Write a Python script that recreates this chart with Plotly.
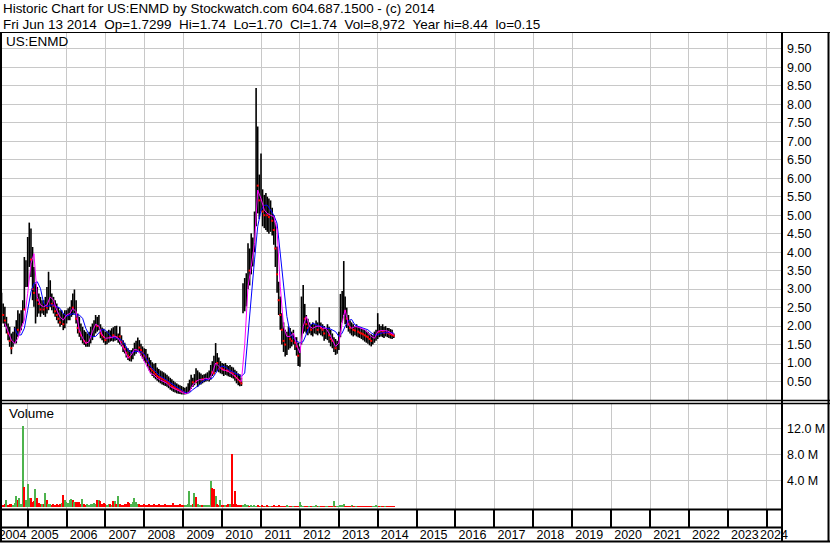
import plotly.graph_objects as go
import pandas as pd

# ---------------- data ----------------
# semi-monthly bars starting 2004-05-01 (1st and 16th of each month)
bar_high = [2.90, 2.61, 2.52, 2.25, 2.07, 1.98, 1.80, 1.85, 1.98, 2.16, 2.43, 2.34, 2.43, 2.70, 3.87, 3.78, 4.41, 4.80, 4.64, 4.14,
            3.60, 3.15, 3.06, 2.88, 2.79, 2.70, 2.70, 2.79, 3.06, 3.47, 3.24, 2.88, 2.79, 2.70, 2.61, 2.52, 2.43, 2.43, 2.34, 2.43,
            2.43, 2.48, 2.52, 2.70, 2.88, 2.99, 2.70, 2.34, 2.25, 2.07, 1.98, 1.89, 1.85, 1.80, 1.85, 1.98, 2.07, 2.16, 2.30, 2.25,
            2.30, 2.05, 1.96, 1.93, 1.85, 1.86, 1.90, 1.88, 1.94, 1.97, 2.00, 2.01, 1.80, 1.99, 1.75, 1.62, 1.55, 1.44, 1.40, 1.35,
            1.35, 1.40, 1.55, 1.60, 1.69, 1.62, 1.52, 1.45, 1.40, 1.38, 1.25, 1.15, 1.08, 1.02, 0.98, 1.00, 0.88, 0.84, 0.80, 0.78,
            0.75, 0.72, 0.68, 0.64, 0.60, 0.56, 0.52, 0.48, 0.45, 0.42, 0.40, 0.38, 0.35, 0.33, 0.36, 0.45, 0.55, 0.68, 0.60, 0.70,
            0.86, 0.80, 0.75, 0.72, 0.68, 0.70, 0.72, 0.75, 0.80, 0.95, 1.05, 1.20, 1.54, 1.27, 1.15, 1.05, 1.00, 0.98, 1.00, 0.95,
            0.92, 0.95, 0.90, 0.88, 0.82, 0.78, 0.72, 0.70, 0.60, 3.16, 3.30, 3.43, 4.24, 4.10, 4.51, 4.40, 5.10, 8.44, 7.40, 6.10,
            6.67, 5.70, 5.55, 5.60, 5.50, 5.45, 5.40, 5.20, 5.00, 4.80, 4.15, 3.20, 2.80, 2.35, 2.10, 1.90, 1.85, 1.99, 1.95, 1.85,
            1.90, 1.70, 1.70, 1.55, 1.45, 2.80, 3.11, 2.60, 2.30, 2.20, 2.10, 2.05, 2.10, 2.05, 2.15, 2.10, 2.51, 2.10, 2.05, 2.00,
            1.95, 2.05, 1.98, 1.90, 1.80, 1.70, 1.65, 1.60, 1.85, 2.87, 2.95, 3.76, 2.80, 2.50, 2.30, 2.15, 2.10, 2.05, 2.00, 2.05,
            2.00, 1.98, 1.95, 1.92, 1.90, 1.88, 1.85, 1.80, 1.78, 1.75, 1.85, 1.90, 2.35, 2.05, 2.00, 2.05, 1.98, 2.00, 1.95, 1.95,
            1.92, 1.90, 1.80]
bar_low = [2.34, 2.07, 1.98, 1.80, 1.62, 1.44, 1.24, 1.44, 1.53, 1.53, 1.71, 1.80, 1.89, 2.07, 2.43, 3.06, 3.06, 3.60, 3.33, 2.70,
           2.52, 2.07, 2.25, 2.34, 2.25, 2.34, 2.30, 2.25, 2.34, 2.43, 2.52, 2.43, 2.34, 2.25, 2.16, 2.07, 1.98, 2.03, 1.89, 1.94,
           2.07, 2.16, 2.16, 2.25, 2.30, 2.34, 2.07, 1.80, 1.71, 1.62, 1.53, 1.49, 1.44, 1.44, 1.44, 1.53, 1.62, 1.71, 1.80, 1.85,
           1.89, 1.67, 1.62, 1.55, 1.49, 1.51, 1.55, 1.58, 1.60, 1.58, 1.60, 1.62, 1.55, 1.50, 1.45, 1.30, 1.26, 1.15, 1.08, 1.05,
           1.04, 1.10, 1.20, 1.25, 1.30, 1.28, 1.20, 1.12, 1.05, 1.00, 0.90, 0.80, 0.72, 0.65, 0.60, 0.56, 0.52, 0.48, 0.45, 0.42,
           0.40, 0.38, 0.36, 0.32, 0.28, 0.25, 0.22, 0.20, 0.18, 0.17, 0.16, 0.15, 0.15, 0.15, 0.16, 0.18, 0.22, 0.30, 0.35, 0.40,
           0.45, 0.35, 0.40, 0.42, 0.45, 0.48, 0.50, 0.52, 0.50, 0.55, 0.65, 0.70, 0.75, 0.78, 0.75, 0.72, 0.70, 0.65, 0.68, 0.66,
           0.64, 0.62, 0.60, 0.58, 0.52, 0.45, 0.40, 0.37, 0.38, 2.35, 2.40, 2.53, 3.00, 3.10, 3.40, 3.61, 4.00, 4.70, 5.05, 4.90,
           5.10, 4.70, 4.65, 4.60, 4.55, 4.50, 4.55, 4.45, 4.20, 3.60, 2.90, 2.30, 1.90, 1.50, 1.30, 1.18, 1.22, 1.36, 1.40, 1.45,
           1.50, 1.35, 1.20, 0.92, 0.90, 1.50, 1.80, 1.85, 1.80, 1.75, 1.80, 1.75, 1.72, 1.80, 1.78, 1.75, 1.80, 1.75, 1.72, 1.60,
           1.65, 1.62, 1.55, 1.45, 1.40, 1.30, 1.22, 1.25, 1.35, 1.70, 2.10, 2.30, 2.05, 1.95, 1.85, 1.80, 1.75, 1.72, 1.75, 1.72,
           1.70, 1.68, 1.65, 1.62, 1.58, 1.55, 1.52, 1.48, 1.45, 1.50, 1.55, 1.60, 1.65, 1.70, 1.72, 1.70, 1.68, 1.72, 1.70, 1.68,
           1.66, 1.65, 1.68]
bar_close = [2.55, 2.30, 2.15, 2.20, 1.80, 1.60, 1.40, 1.65, 1.70, 1.95, 1.90, 2.00, 2.20, 2.50, 2.45, 3.30, 4.00, 4.20, 3.80, 3.00,
             2.90, 2.95, 2.70, 2.60, 2.45, 2.55, 2.45, 2.60, 2.50, 2.70, 2.85, 2.60, 2.55, 2.40, 2.30, 2.20, 2.10, 2.25, 2.05, 2.20,
             2.30, 2.35, 2.40, 2.55, 2.50, 2.60, 2.20, 1.95, 1.85, 1.75, 1.80, 1.60, 1.55, 1.60, 1.70, 1.75, 1.90, 1.95, 2.10, 2.00,
             2.05, 1.80, 1.75, 1.70, 1.62, 1.70, 1.72, 1.70, 1.78, 1.75, 1.85, 1.70, 1.75, 1.72, 1.58, 1.45, 1.38, 1.28, 1.20, 1.15,
             1.22, 1.28, 1.40, 1.45, 1.50, 1.42, 1.35, 1.28, 1.20, 1.15, 1.05, 0.95, 0.85, 0.80, 0.75, 0.70, 0.65, 0.62, 0.60, 0.58,
             0.55, 0.52, 0.50, 0.46, 0.42, 0.38, 0.35, 0.32, 0.30, 0.28, 0.26, 0.24, 0.22, 0.22, 0.25, 0.32, 0.40, 0.50, 0.48, 0.55,
             0.50, 0.55, 0.55, 0.58, 0.56, 0.60, 0.62, 0.63, 0.65, 0.80, 0.75, 0.72, 1.10, 1.00, 0.85, 0.90, 0.85, 0.82, 0.85, 0.80,
             0.78, 0.80, 0.75, 0.72, 0.65, 0.60, 0.55, 0.50, 0.45, 2.70, 2.90, 3.00, 3.60, 3.50, 4.00, 4.10, 4.60, 6.50, 5.80, 5.40,
             5.60, 5.10, 5.00, 5.10, 5.00, 4.95, 5.00, 4.85, 4.60, 4.10, 3.40, 2.70, 2.30, 1.90, 1.60, 1.50, 1.55, 1.70, 1.65, 1.60,
             1.70, 1.55, 1.45, 1.20, 1.25, 2.20, 2.50, 2.20, 2.05, 1.95, 1.95, 1.90, 1.90, 1.95, 1.95, 1.90, 2.10, 1.95, 1.90, 1.80,
             1.80, 1.85, 1.75, 1.65, 1.60, 1.62, 1.40, 1.45, 1.60, 2.20, 2.50, 2.80, 2.40, 2.20, 2.05, 1.95, 1.95, 1.90, 1.88, 1.90,
             1.85, 1.82, 1.80, 1.78, 1.75, 1.72, 1.70, 1.65, 1.60, 1.62, 1.70, 1.75, 1.90, 1.85, 1.88, 1.85, 1.82, 1.86, 1.82, 1.80,
             1.78, 1.76, 1.74]
# volume in millions of shares
volume_m = [0.4, 0.3, 0.5, 1.0, 0.3, 0.4, 0.5, 0.3, 0.6, 1.6, 1.0, 1.3, 0.5, 12.4, 3.0, 1.0, 3.5, 1.3, 1.3, 0.8,
            0.9, 2.8, 1.3, 0.6, 0.5, 0.4, 0.4, 2.1, 1.05, 0.5, 0.4, 0.3, 0.5, 0.3, 0.4, 0.3, 0.5, 0.6, 1.8, 1.0,
            0.8, 0.6, 1.0, 1.2, 1.0, 0.7, 0.8, 0.7, 0.8, 0.5, 1.2, 0.5, 0.3, 0.4, 0.3, 0.5, 0.4, 0.6, 0.5, 1.05,
            1.1, 0.9, 0.5, 0.6, 0.4, 0.3, 0.5, 0.4, 0.3, 0.95, 0.9, 0.4, 1.65, 0.4, 0.3, 0.2, 0.4, 0.5, 0.8, 0.6,
            0.5, 0.7, 1.3, 0.8, 0.5, 0.4, 0.3, 0.3, 0.4, 0.2, 0.3, 0.4, 0.2, 0.3, 0.5, 0.3, 0.2, 0.4, 0.3, 0.2,
            0.3, 0.4, 0.2, 0.3, 0.2, 0.3, 0.55, 0.3, 0.2, 0.3, 0.4, 0.2, 0.3, 0.2, 0.3, 0.4, 2.5, 0.3, 0.5, 2.1,
            1.55, 0.4, 0.3, 0.2, 0.3, 0.2, 0.3, 0.2, 0.3, 3.95, 2.9, 2.7, 1.7, 0.5, 0.3, 1.05, 0.3, 0.2, 0.3, 0.2,
            0.4, 0.5, 8.1, 0.4, 2.4, 0.5, 0.3, 0.2, 0.2, 0.3, 0.4, 0.2, 0.15, 0.1, 0.15, 0.1, 0.28, 0.1, 0.15, 0.1,
            0.1, 0.15, 0.1, 0.1, 0.15, 0.1, 0.1, 0.1, 0.25, 0.1, 0.1, 0.15, 0.1, 0.1, 0.1, 0.1, 0.15, 0.1, 0.1, 0.1,
            0.1, 0.1, 0.1, 0.1, 0.8, 0.2, 0.1, 0.1, 0.1, 0.1, 0.1, 0.1, 0.1, 0.1, 0.15, 0.1, 0.1, 0.1, 0.1, 0.1,
            0.1, 0.1, 0.1, 0.1, 0.1, 0.9, 0.1, 0.1, 0.1, 0.2, 0.15, 0.45, 0.1, 0.1, 0.1, 0.1, 0.15, 0.1, 0.1, 0.1,
            0.1, 0.1, 0.1, 0.1, 0.1, 0.1, 0.1, 0.1, 0.1, 0.1, 0.1, 0.15, 0.1, 0.1, 0.1, 0.1, 0.1, 0.1, 0.1, 0.1,
            0.1, 0.1, 0.05]
# moving averages, one value per month
ma_short_first_month = 1      # months after 2004-05-01
ma_short = [2.07, 1.85, 1.62, 1.53, 1.67, 1.94, 2.16, 2.88, 3.69, 3.96, 2.79, 2.57, 2.52, 2.57, 2.79, 2.70, 2.43, 2.25, 2.16, 2.30,
            2.34, 2.48, 2.39, 1.89, 1.67, 1.53, 1.58, 1.85, 2.05, 2.00, 1.76, 1.67, 1.67, 1.69, 1.73, 1.67, 1.51, 1.35, 1.13, 1.22,
            1.37, 1.35, 1.22, 1.04, 0.86, 0.72, 0.68, 0.59, 0.54, 0.50, 0.45, 0.36, 0.32, 0.26, 0.23, 0.19, 0.17, 0.23, 0.41, 0.50,
            0.55, 0.55, 0.59, 0.56, 0.72, 1.00, 0.91, 0.82, 0.80, 0.77, 0.71, 0.65, 0.55, 0.50, 1.50, 3.07, 3.61, 4.24, 5.68, 5.45,
            5.14, 5.05, 5.00, 4.96, 4.60, 3.07, 1.99, 1.72, 1.72, 1.81, 1.50, 1.27, 1.99, 2.26, 1.99, 1.94, 1.99, 2.00, 1.94, 1.94,
            1.81, 1.63, 1.45, 1.54, 2.08, 2.44, 2.03, 1.94, 1.99, 1.97, 1.94, 1.90, 1.81, 1.72, 1.67, 1.85, 1.88, 1.88, 1.87, 1.82,
            1.76]
ma_long_first_month = 4
ma_long = [1.94, 1.76, 1.76, 1.94, 2.43, 2.93, 3.15, 3.20, 3.02, 2.61, 2.52, 2.57, 2.57, 2.52, 2.48, 2.34, 2.27, 2.30, 2.34, 2.30,
           2.30, 2.21, 1.94, 1.76, 1.71, 1.72, 1.82, 1.91, 1.89, 1.80, 1.69, 1.69, 1.67, 1.62, 1.51, 1.35, 1.28, 1.31, 1.31, 1.31,
           1.24, 1.08, 0.90, 0.81, 0.72, 0.63, 0.59, 0.53, 0.45, 0.41, 0.35, 0.29, 0.23, 0.19, 0.20, 0.28, 0.34, 0.41, 0.50, 0.55,
           0.56, 0.59, 0.72, 0.86, 0.92, 0.89, 0.82, 0.77, 0.73, 0.68, 0.64, 0.73, 1.81, 2.89, 3.79, 4.69, 5.14, 5.27, 5.27, 5.14,
           5.00, 4.78, 3.97, 3.07, 2.26, 1.81, 1.67, 1.60, 1.54, 1.58, 1.76, 1.99, 2.08, 2.03, 2.00, 1.99, 1.94, 1.94, 1.90, 1.85,
           1.72, 1.81, 1.99, 2.15, 2.18, 2.03, 1.99, 1.96, 1.94, 1.90, 1.82, 1.76, 1.76, 1.81, 1.82, 1.83, 1.82, 1.81]

price_ticks = [0.5, 1.0, 1.5, 2.0, 2.5, 3.0, 3.5, 4.0, 4.5, 5.0, 5.5, 6.0, 6.5, 7.0, 7.5, 8.0, 8.5, 9.0, 9.5]
price_tick_labels = ["%.2f" % v for v in price_ticks]
volume_ticks_m = [4, 8, 12]
volume_tick_labels = ["4.0 M", "8.0 M", "12.0 M"]
years = list(range(2004, 2025))

header_1 = "Historic Chart for US:ENMD by Stockwatch.com 604.687.1500 - (c) 2014"
header_2 = "Fri Jun 13 2014  Op=1.7299  Hi=1.74  Lo=1.70  Cl=1.74  Vol=8,972  Year hi=8.44  lo=0.15"
symbol = "US:ENMD"

# ---------------- build ----------------
base = pd.Timestamp("2004-05-01")
dates = [base + pd.DateOffset(months=k // 2) + pd.Timedelta(days=15 * (k % 2)) for k in range(len(bar_high))]
ma_short_dates = [base + pd.DateOffset(months=ma_short_first_month + k) for k in range(len(ma_short))]
ma_long_dates = [base + pd.DateOffset(months=ma_long_first_month + k) for k in range(len(ma_long))]

bx, by = [], []
for d, h, l in zip(dates, bar_high, bar_low):
    bx += [d, d, None]
    by += [l, h, None]

down = [k > 0 and bar_close[k] < bar_close[k - 1] for k in range(len(bar_close))]
red_x = [d for d, f in zip(dates, down) if f]
red_y = [c for c, f in zip(bar_close, down) if f]
vol_colors = ["#ff0000" if f else "#4db34d" for f in down]

W, H = 830, 543
PL, PR, PT, PB = 2, 782, 33, 509   # plot area in pixels


def fx(px):
    return (px - PL) / (PR - PL)


def fy(py):
    return (PB - py) / (PB - PT)


x_start = pd.Timestamp("2004-05-05")
x_end = pd.Timestamp("2024-05-24")

label_pos = []
for yr in years:
    c = pd.Timestamp(f"{yr}-01-01") + pd.Timedelta(days=160)
    c = max(c, x_start + pd.Timedelta(days=99))
    c = min(c, x_end - pd.Timedelta(days=75))
    label_pos.append(c)

FONT = "Liberation Sans, Arial, sans-serif"
GRID = "#c8c8c8"

fig = go.Figure()
fig.add_trace(go.Scatter(x=bx, y=by, mode="lines", line=dict(color="#000000", width=1.6),
                         xaxis="x", yaxis="y", hoverinfo="skip", showlegend=False))
fig.add_trace(go.Scatter(x=red_x, y=red_y, mode="markers",
                         marker=dict(color="#ff0000", size=2, symbol="square", line=dict(width=0)),
                         xaxis="x", yaxis="y", hoverinfo="skip", showlegend=False))
fig.add_trace(go.Scatter(x=ma_long_dates, y=ma_long, mode="lines", line=dict(color="#0000ff", width=1),
                         xaxis="x", yaxis="y", showlegend=False))
fig.add_trace(go.Scatter(x=ma_short_dates, y=ma_short, mode="lines", line=dict(color="#ff00ff", width=1),
                         xaxis="x", yaxis="y", showlegend=False))
fig.add_trace(go.Bar(x=dates, y=[v * 1e6 for v in volume_m], marker=dict(color=vol_colors, line=dict(width=0)),
                     width=12 * 86400000, xaxis="x2", yaxis="y2", showlegend=False))

minor_grid = dict(showgrid=True, gridcolor=GRID, gridwidth=1, dtick="M12", tick0="2005-01-01")

fig.update_layout(
    width=W, height=H,
    margin=dict(l=PL, r=W - PR, t=PT, b=H - PB, pad=0, autoexpand=False),
    paper_bgcolor="#ffffff", plot_bgcolor="#ffffff",
    font=dict(family=FONT, size=12.5, color="#000000"),
    bargap=0,
    xaxis=dict(domain=[0, 1], anchor="y", type="date", range=[x_start, x_end], matches="x2",
               showticklabels=False, showgrid=False, zeroline=False, ticks="", automargin=False,
               minor=dict(**minor_grid, ticks="")),
    yaxis=dict(domain=[fy(400), 1], anchor="x", side="right", range=[0, 9.93],
               tickmode="array", tickvals=price_ticks, ticktext=price_tick_labels,
               showgrid=True, gridcolor=GRID, gridwidth=1, zeroline=False, ticks="", automargin=False,
               ticklabelstandoff=4, tickfont=dict(size=12.5, color="#000000")),
    xaxis2=dict(domain=[0, 1], anchor="y2", type="date", range=[x_start, x_end],
                tickmode="array", tickvals=label_pos, ticktext=[str(y) for y in years], tickangle=0,
                ticks="outside", ticklen=14, tickcolor="rgba(0,0,0,0)", automargin=False,
                ticklabeloverflow="allow",
                showgrid=False, zeroline=False, tickfont=dict(size=12.5, color="#000000"),
                minor=dict(**minor_grid, ticks="outside", ticklen=18, tickcolor="#000000", tickwidth=1.5)),
    yaxis2=dict(domain=[0, fy(403)], anchor="x2", side="right", range=[-0.32e6, 15.86e6],
                tickmode="array", tickvals=[v * 1e6 for v in volume_ticks_m], ticktext=volume_tick_labels,
                showgrid=True, gridcolor=GRID, gridwidth=1, zeroline=False, ticks="", automargin=False,
                ticklabelstandoff=4, tickfont=dict(size=12.5, color="#000000")),
)

shapes = []


def hline(py, x0, x1, w):
    shapes.append(dict(type="line", xref="paper", yref="paper", x0=fx(x0), x1=fx(x1), y0=fy(py), y1=fy(py),
                       line=dict(color="#000000", width=w), layer="above"))


def vline(px, y0, y1, w):
    shapes.append(dict(type="line", xref="paper", yref="paper", x0=fx(px), x1=fx(px), y0=fy(y0), y1=fy(y1),
                       line=dict(color="#000000", width=w), layer="above"))


hline(32.5, 0, 830, 1)
hline(400.5, 0, 830, 1.3)
hline(403.5, 0, 830, 1.3)
hline(509.5, 0, 782, 2)
hline(527.5, 0, 782, 2)
hline(541.5, 0, 830, 2)
vline(1, 32, 542, 2)
vline(782, 32, 542, 2)
vline(828.5, 32, 542, 2)
fig.update_layout(shapes=shapes)

ann = []


def text(s, px, py, size):
    ann.append(dict(text=s.replace("  ", "\u00a0\u00a0"), xref="paper", yref="paper", x=fx(px), y=fy(py),
                    xanchor="left", yanchor="middle", showarrow=False,
                    font=dict(family=FONT, size=size, color="#000000")))


text(header_1, 1, 9, 13.4)
text(header_2, 1, 24, 13.5)
text(symbol, 4, 41.5, 13.5)
text("Volume", 7, 413, 13.5)
fig.update_layout(annotations=ann)

fig.write_html("out.html", config={"displayModeBar": False},
               post_script="document.body.style.margin='0';")
